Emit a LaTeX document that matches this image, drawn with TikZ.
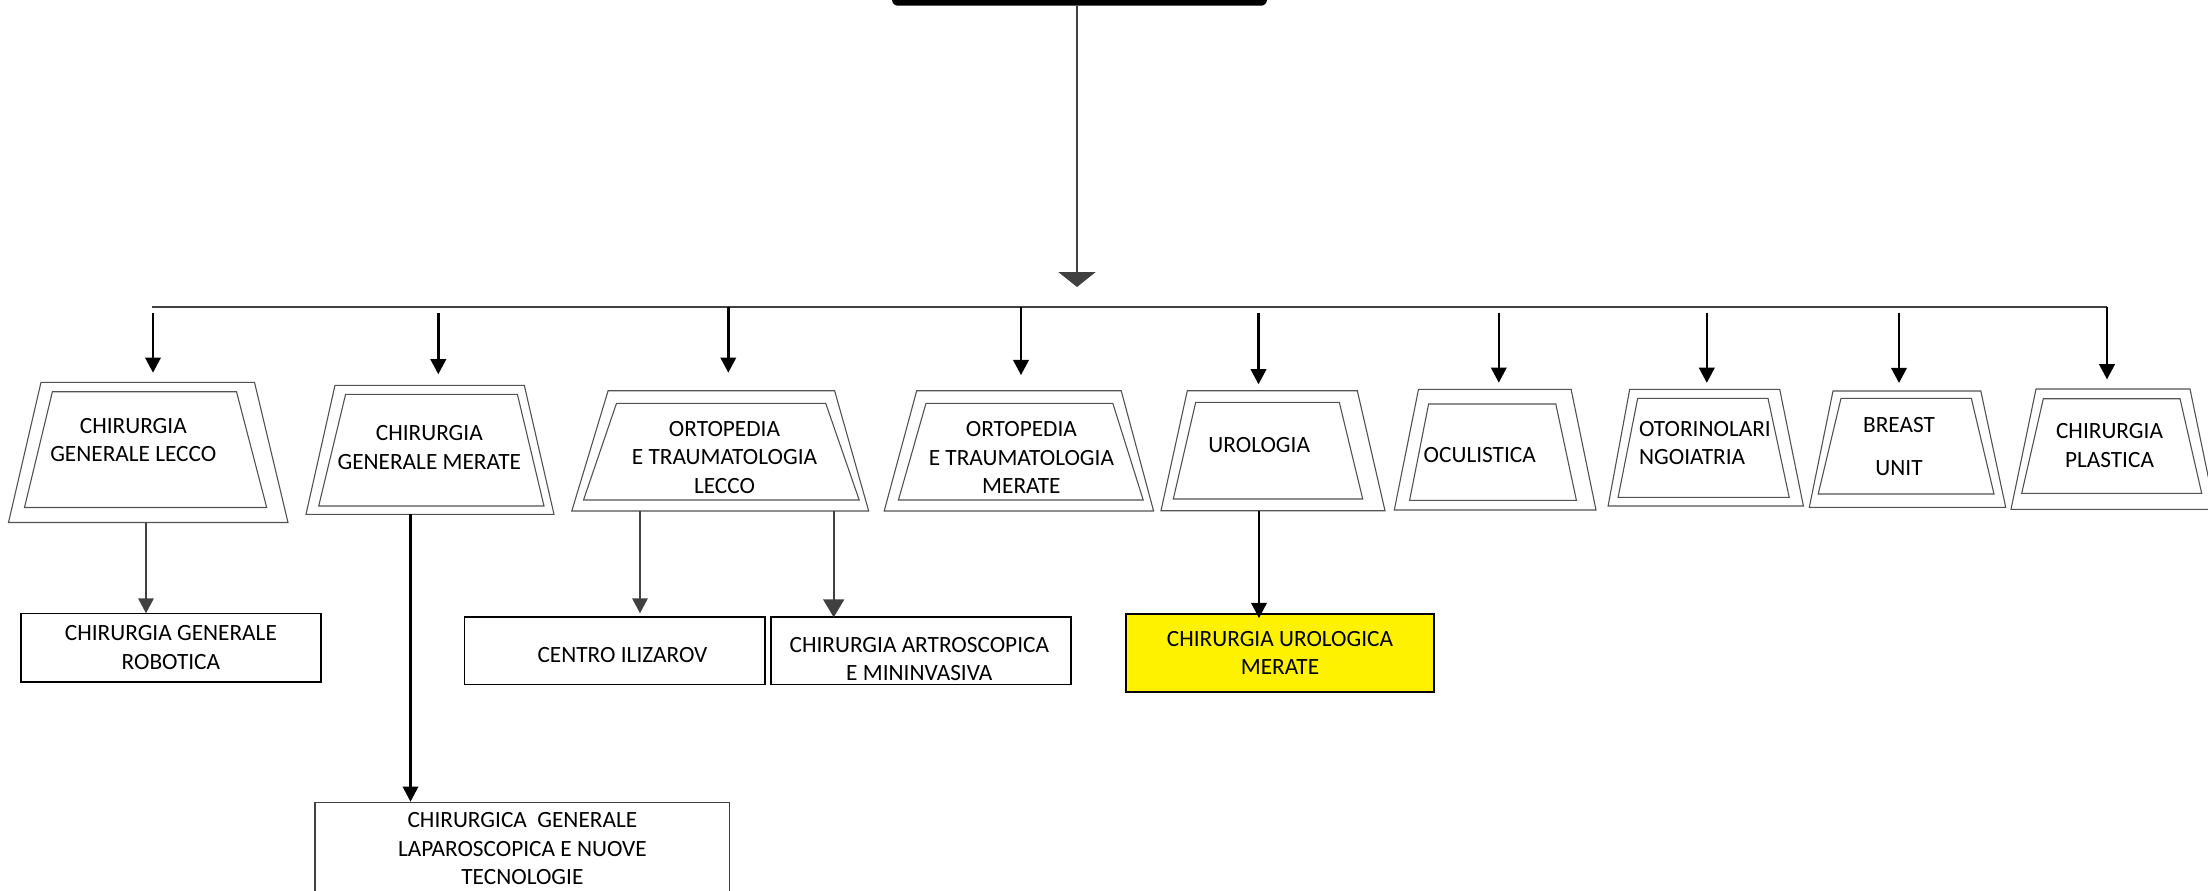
\documentclass[tikz,border=0pt]{standalone}
\usepackage{fontspec}
\setmainfont{Carlito}
\usetikzlibrary{arrows.meta,fit}
\definecolor{dg}{HTML}{404040}
\tikzset{
  trapo/.style={draw=black!68, line width=0.55pt, line join=miter},
  frame/.style={inner sep=0pt, outer sep=0pt},
  lbl/.style={font=\fontsize{11.65}{14.25}\selectfont, align=center, inner sep=0pt, text=black},
  arr/.style={line width=1.3pt, draw=black, -{Triangle[width=7.7pt,length=7.6pt]}},
  garr/.style={line width=1pt, draw=dg, -{Triangle[width=7.7pt,length=7.5pt]}},
  garrbig/.style={line width=1pt, draw=dg, -{Triangle[width=10.5pt,length=9pt]}},
  busline/.style={line width=1.35pt, draw=dg},
  mainarr/.style={line width=1.1pt, draw=dg, -{Triangle[width=18.5pt,length=7.5pt]}},
  topbox/.style={fill=black, rounded corners=3pt, minimum width=187.5pt, minimum height=17.7pt, inner sep=0pt},
  subbox/.style={draw=black, line width=0.8pt, inner sep=0pt, outer sep=0pt,
    font=\fontsize{11.65}{14.25}\selectfont, align=center},
}
\begin{document}
\begin{tikzpicture}[x=0.5pt,y=-0.5pt]
\useasboundingbox (0,0) rectangle (2208,890);

% top box (cut by the page edge)
\node[topbox] (top) at (1079.5,-12) {};
\coordinate (hub) at (1077,287);
\draw[mainarr] (top.south -| hub) -- (hub);

% bus
\coordinate (busL) at (152,307);
\coordinate (busR) at (2107,307);
\draw[busline] (busL) -- (busR);

% ---------- trapezoids ----------
% 1
\draw[trapo] (41,382.3) -- (254.5,382.3) -- (288,522.5) -- (8.5,522.5) -- cycle;
\draw[trapo] (52.4,391.7) -- (236.5,391.7) -- (266.7,507.5) -- (24.5,507.5) -- cycle;
\node[frame, fit={(8.5,382.3)(288,522.5)}] (c1) {};
% 2
\draw[trapo] (335,385.3) -- (524.3,385.3) -- (554,514.3) -- (306,514.3) -- cycle;
\draw[trapo] (345.6,394.3) -- (517.4,394.3) -- (544,506) -- (318.7,506) -- cycle;
\node[frame, fit={(306,385.3)(554,514.3)}] (c2) {};
% 3
\draw[trapo] (608.1,390.7) -- (834.6,390.7) -- (868.7,511) -- (571.8,511) -- cycle;
\draw[trapo] (616.5,403.3) -- (825.7,403.3) -- (859.2,500) -- (583.5,500) -- cycle;
\node[frame, fit={(571.8,390.7)(868.7,511)}] (c3) {};
% 4
\draw[trapo] (916.7,390.7) -- (1121.2,390.7) -- (1153.6,511) -- (884.2,511) -- cycle;
\draw[trapo] (926,403.3) -- (1112.8,403.3) -- (1143.2,500) -- (898.4,500) -- cycle;
\node[frame, fit={(884.2,390.7)(1153.6,511)}] (c4) {};
% 5
\draw[trapo] (1187.3,390.7) -- (1357.3,390.7) -- (1385,510.7) -- (1161,510.7) -- cycle;
\draw[trapo] (1195.7,402.3) -- (1339.3,402.3) -- (1362.7,499) -- (1173.3,499) -- cycle;
\node[frame, fit={(1161,390.7)(1385,510.7)}] (c5) {};
% 6
\draw[trapo] (1418.5,389.3) -- (1571.1,389.3) -- (1596,510) -- (1394.3,510) -- cycle;
\draw[trapo] (1428.6,404) -- (1555.8,404) -- (1576.4,500.3) -- (1409.6,500.3) -- cycle;
\node[frame, fit={(1394.3,389.3)(1596,510)}] (c6) {};
% 7
\draw[trapo] (1629.7,389.3) -- (1779.7,389.3) -- (1803.4,506) -- (1608.1,506) -- cycle;
\draw[trapo] (1637.7,398.3) -- (1768,398.3) -- (1789.2,497.3) -- (1618.1,497.3) -- cycle;
\node[frame, fit={(1608.1,389.3)(1803.4,506)}] (c7) {};
% 8
\draw[trapo] (1833,391) -- (1980.8,391) -- (2005.7,507.3) -- (1809.3,507.3) -- cycle;
\draw[trapo] (1841,398.3) -- (1971.3,398.3) -- (1994,494) -- (1818.2,494) -- cycle;
\node[frame, fit={(1809.3,391)(2005.7,507.3)}] (c8) {};
% 9
\draw[trapo] (2036,389) -- (2190,389) -- (2215,509.3) -- (2011,509.3) -- cycle;
\draw[trapo] (2043.3,398.7) -- (2180,398.7) -- (2201.7,493.3) -- (2021.7,493.3) -- cycle;
\node[frame, fit={(2011,389)(2215,509.3)}] (c9) {};

% texts in trapezoids
\node[lbl] (t1) at (133.3,439.9) {CHIRURGIA\\GENERALE LECCO};
\node[lbl] (t2) at (429.3,447.5) {CHIRURGIA\\GENERALE MERATE};
\node[lbl] (t3) at (724.5,457.5) {ORTOPEDIA\\E TRAUMATOLOGIA\\LECCO};
\node[lbl] (t4) at (1021.4,457.5) {ORTOPEDIA\\E TRAUMATOLOGIA\\MERATE};
\node[lbl] (t5) at (1259.2,445) {UROLOGIA};
\node[lbl, anchor=west] (t6) at (1423.3,455) {OCULISTICA};
\node[lbl, anchor=west, align=left] (t7) at (1638.7,443) {OTORINOLARI\\NGOIATRIA};
\node[lbl] (t8) at (1899,446.7) {BREAST\\[7.4pt]UNIT};
\node[lbl] (t9) at (2109.5,445.5) {CHIRURGIA\\PLASTICA};

% arrows from the bus
\coordinate (b1) at (153,313);
\coordinate (b2) at (438.3,313);
\coordinate (b3) at (728.3,307);
\coordinate (b4) at (1021,307);
\coordinate (b5) at (1258.5,313);
\coordinate (b6) at (1498.8,313);
\coordinate (b7) at (1706.8,313);
\coordinate (b8) at (1899,313);
\draw[arr, shorten >=4.8pt] (b1) -- (b1 |- c1.north);
\draw[arr, shorten >=5.5pt] (b2) -- (b2 |- c2.north);
\draw[arr, shorten >=9pt] (b3) -- (b3 |- c3.north);
\draw[arr, shorten >=7.8pt] (b4) -- (b4 |- c4.north);
\draw[arr, shorten >=3.2pt] (b5) -- (b5 |- c5.north);
\draw[arr, shorten >=3.3pt] (b6) -- (b6 |- c6.north);
\draw[arr, shorten >=3.2pt] (b7) -- (b7 |- c7.north);
\draw[arr, shorten >=4pt] (b8) -- (b8 |- c8.north);
\draw[arr, shorten >=4.8pt] (busR) -- (busR |- c9.north);

% ---------- lower boxes ----------
\node[subbox, minimum width=149.85pt, minimum height=34.2pt] (r1) at (170.9,647.5) {CHIRURGIA GENERALE\\ROBOTICA};
\node[subbox, minimum width=150.2pt, minimum height=33.8pt] (r2) at (614.8,650.5) {};
\node[lbl] (r2t) at (622.5,655) {CENTRO ILIZAROV};
\node[subbox, minimum width=149.85pt, minimum height=33.8pt] (r3) at (921,650.5) {};
\node[lbl] (r3t) at (919.3,658.9) {CHIRURGIA ARTROSCOPICA\\E MININVASIVA};
\node[subbox, draw=black!75, line width=0.6pt, minimum width=207.4pt, minimum height=46.15pt] (r4) at (522.4,848.85) {CHIRURGICA\ \ GENERALE\\LAPAROSCOPICA E NUOVE\\TECNOLOGIE};
\node[subbox, fill=yellow, line width=1pt, minimum width=154.3pt, minimum height=38.85pt] (r5) at (1280,652.9) {CHIRURGIA UROLOGICA\\MERATE};

% arrows to lower boxes
\coordinate (k1) at (146,0);
\coordinate (k2) at (410.5,0);
\coordinate (k3) at (640,0);
\coordinate (k4) at (833.7,0);
\coordinate (k5) at (1259,0);
\draw[garr] (c1.south -| k1) -- (r1.north -| k1);
\draw[arr, line width=1.2pt, shorten >=0.5pt] (c2.south -| k2) -- (r4.north -| k2);
\draw[garr, shorten >=1.7pt] (c3.south -| k3) -- (r2.north -| k3);
\draw[garrbig, shorten >=-0.3pt] (c3.south -| k4) -- (r3.north -| k4);
\draw[arr, line width=1.2pt, shorten >=-2pt] (c5.south -| k5) -- (r5.north -| k5);
\end{tikzpicture}
\end{document}
